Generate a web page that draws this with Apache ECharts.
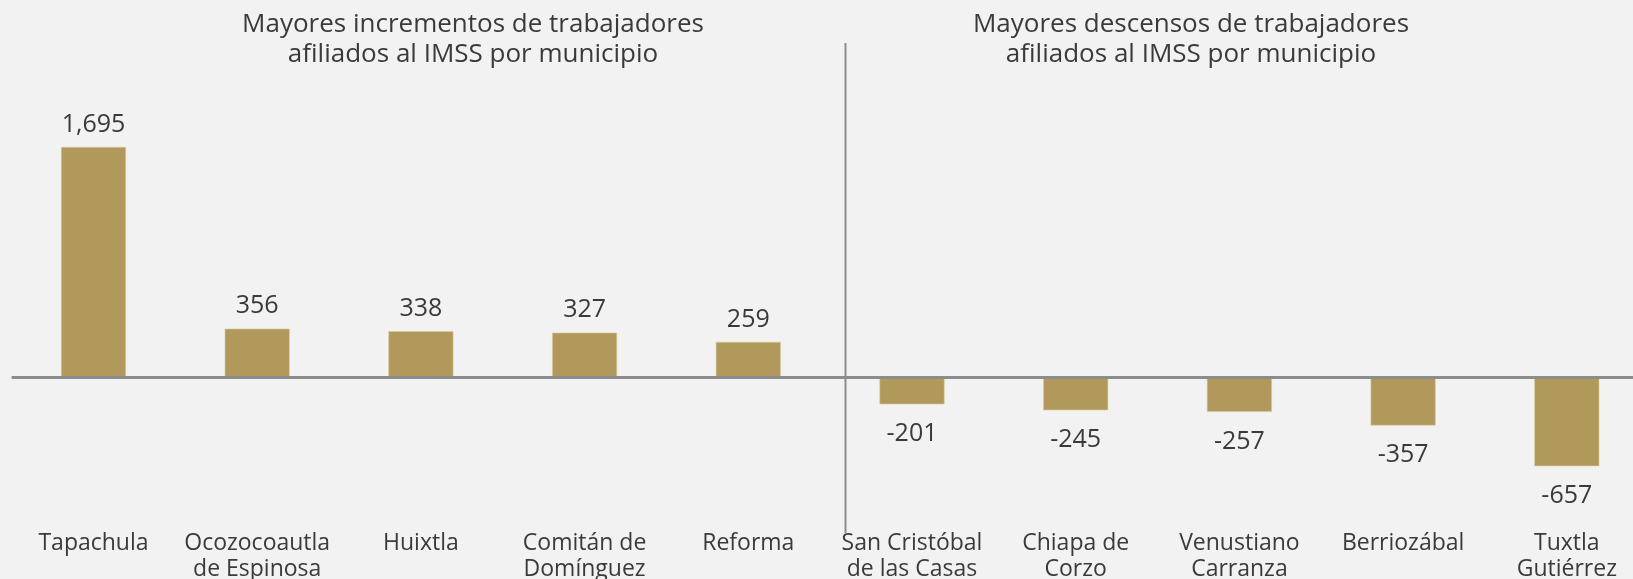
<!DOCTYPE html>
<html>
<head>
<meta charset="utf-8">
<title>Trabajadores afiliados al IMSS por municipio</title>
<script src="https://cdn.jsdelivr.net/npm/echarts@6/dist/echarts.min.js"></script>
<style>
  html, body { margin: 0; padding: 0; background: #f2f2f2; }
  #chart { width: 1633px; height: 579px; }
</style>
</head>
<body>
<div id="chart"></div>
<script>
  // municipios (5 con mayores incrementos, 5 con mayores descensos)
  const municipios = [
    'Tapachula', 'Ocozocoautla\nde Espinosa', 'Huixtla', 'Comitán de\nDomínguez', 'Reforma',
    'San Cristóbal\nde las Casas', 'Chiapa de\nCorzo', 'Venustiano\nCarranza', 'Berriozábal', 'Tuxtla\nGutiérrez'
  ]
  const variacion = [1695, 356, 338, 327, 259, -201, -245, -257, -357, -657]
  const titulos = [
    'Mayores incrementos de trabajadores\nafiliados al IMSS por municipio',
    'Mayores descensos de trabajadores\nafiliados al IMSS por municipio'
  ]

  const textColor = '#3a3a3a'
  const fontFamily = '"Open Sans", sans-serif'

  const chart = echarts.init(document.getElementById('chart'))

  const barData = variacion.map(v => ({
    value: v,
    label: { position: v >= 0 ? 'top' : 'bottom', distance: v >= 0 ? 10 : 17 }
  }))

  chart.setOption({
    backgroundColor: '#f2f2f2',
    animation: false,
    title: [
      {
        text: titulos[0],
        left: 468,
        top: 5,
        textAlign: 'center',
        textStyle: { color: textColor, fontFamily: fontFamily, fontWeight: 'normal', fontSize: 26, lineHeight: 30 }
      },
      {
        text: titulos[1],
        left: 1186,
        top: 5,
        textAlign: 'center',
        textStyle: { color: textColor, fontFamily: fontFamily, fontWeight: 'normal', fontSize: 26, lineHeight: 30 }
      }
    ],
    grid: {
      left: 11.65,
      width: 1637,
      top: 105.6,
      height: 380,
      containLabel: false,
      outerBoundsMode: 'none'
    },
    xAxis: {
      type: 'category',
      data: municipios,
      axisLine: { show: false },
      axisTick: { show: false },
      axisLabel: {
        interval: 0,
        margin: 45,
        color: textColor,
        fontFamily: fontFamily,
        fontSize: 23,
        lineHeight: 26
      }
    },
    yAxis: {
      type: 'value',
      min: -800,
      max: 2000,
      show: false,
      splitLine: { show: false }
    },
    graphic: [
      {
        type: 'line',
        shape: { x1: 845.5, y1: 43, x2: 845.5, y2: 533 },
        style: { stroke: '#8c8c8c', lineWidth: 2 },
        z: 10
      }
    ],
    series: [
      {
        type: 'bar',
        data: barData,
        barWidth: 65,
        itemStyle: { color: '#b0995b', borderColor: '#d9cb99', borderWidth: 0.6 },
        label: {
          show: true,
          color: textColor,
          fontFamily: fontFamily,
          fontSize: 25,
          formatter: p => p.value.toLocaleString('en-US')
        },
        markLine: {
          silent: true,
          symbol: 'none',
          label: { show: false },
          lineStyle: { color: '#8c8c8c', width: 3, type: 'solid' },
          data: [{ yAxis: 0 }],
          z: 5
        }
      }
    ]
  })
</script>
</body>
</html>
